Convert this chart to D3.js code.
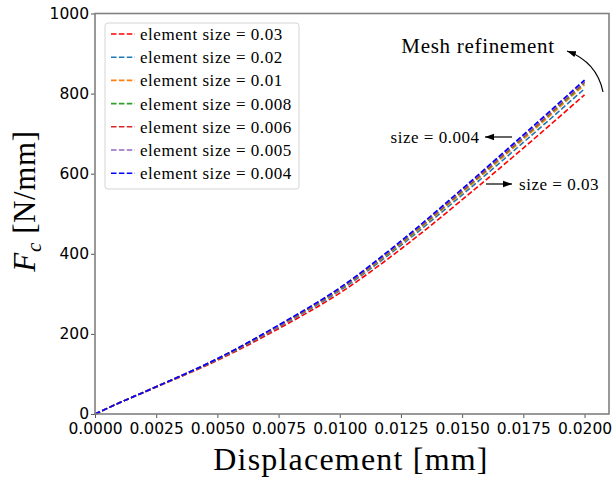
<!DOCTYPE html>
<html>
<head>
<meta charset="utf-8">
<script src="https://cdn.jsdelivr.net/npm/d3@7"></script>
<style>
  body { margin: 0; background: #fff; }
  .tick text { font-family: "DejaVu Sans", sans-serif; font-size: 15.5px; fill: #000; }
  .serif { font-family: "Liberation Serif", "DejaVu Serif", serif; fill: #000; }
</style>
</head>
<body>
<svg class="chart" width="613" height="479"></svg>
<script>
// displacement [mm] where the curves were read
var disp = [0, 0.001, 0.0025, 0.005, 0.0075, 0.01, 0.0125, 0.015, 0.0175, 0.02];

// Fc [N/mm] per element size
var fc003  = [0, 28, 67, 134, 213, 302, 412, 535, 664, 797];
var fc002  = [0, 28, 68, 136, 217, 308, 421, 547, 678, 812];
var fc001  = [0, 28, 68, 137, 219, 311, 425, 553, 686, 822];
var fc0008 = [0, 28, 68, 137, 220, 312, 427, 556, 690, 826];
var fc0006 = [0, 28, 68, 138, 220, 313, 429, 558, 692, 829];
var fc0005 = [0, 28, 68, 138, 221, 314, 430, 560, 694, 831];
var fc0004 = [0, 28, 68, 138, 222, 315, 432, 562, 697, 834];

var labels = ["element size = 0.03", "element size = 0.02", "element size = 0.01",
              "element size = 0.008", "element size = 0.006", "element size = 0.005",
              "element size = 0.004"];
var colors = ["red", "#1f77b4", "#ff7f0e", "#2ca02c", "#d62728", "#9467bd", "blue"];
var series = [fc003, fc002, fc001, fc0008, fc0006, fc0005, fc0004];

var xTicks = [0, 0.0025, 0.005, 0.0075, 0.01, 0.0125, 0.015, 0.0175, 0.02];
var yTicks = [0, 200, 400, 600, 800, 1000];

var margin = {top: 13.5, right: 4, bottom: 65, left: 95};
var width = 613 - margin.left - margin.right;
var height = 479 - margin.top - margin.bottom;

var x = d3.scaleLinear().domain([0, 0.021]).range([0, width]);
var y = d3.scaleLinear().domain([0, 1000]).range([height, 0]);

var svg = d3.select(".chart");
var chart = svg.append("g")
  .attr("transform", "translate(" + margin.left + "," + margin.top + ")");

var defs = svg.append("defs");
defs.append("marker")
  .attr("id", "head")
  .attr("viewBox", "0 0 10 10")
  .attr("refX", 10).attr("refY", 5)
  .attr("markerWidth", 9).attr("markerHeight", 9)
  .attr("markerUnits", "userSpaceOnUse")
  .attr("orient", "auto")
  .append("path")
  .attr("d", "M0,1.5 L10,5 L0,8.5 Z")
  .attr("fill", "#000");

var line = d3.line()
  .x(function(d, i) { return x(disp[i]); })
  .y(function(d) { return y(d); })
  .curve(d3.curveMonotoneX);

chart.selectAll(".series")
  .data(series)
  .enter().append("path")
  .attr("class", "series")
  .attr("d", line)
  .attr("fill", "none")
  .attr("stroke", function(d, i) { return colors[i]; })
  .attr("stroke-width", 1.6)
  .attr("stroke-dasharray", "5.5,2.4");

// axes
var xAxis = d3.axisBottom(x).tickValues(xTicks).tickFormat(d3.format(".4f")).tickSizeOuter(0).tickSize(4).tickPadding(2);
var yAxis = d3.axisLeft(y).tickValues(yTicks).tickFormat(d3.format("d")).tickSizeOuter(0).tickSize(4).tickPadding(2);

var gx = chart.append("g").attr("transform", "translate(0," + height + ")").call(xAxis);
var gy = chart.append("g").call(yAxis);
[gx, gy].forEach(function(g) {
  g.select(".domain").remove();
  g.selectAll(".tick line").attr("stroke", "#555").attr("stroke-width", 1);
});
gx.selectAll("text").attr("dy", "0.9em");

chart.append("rect")
  .attr("width", width).attr("height", height)
  .attr("fill", "none")
  .attr("stroke", "#808080")
  .attr("stroke-width", 1.6);

// legend
var leg = chart.append("g").attr("transform", "translate(10,9.5)");
leg.append("rect")
  .attr("width", 194).attr("height", 166)
  .attr("rx", 3)
  .attr("fill", "#fff")
  .attr("stroke", "#d5d5d5");
var rows = leg.selectAll(".row")
  .data(labels)
  .enter().append("g")
  .attr("transform", function(d, i) { return "translate(0," + (11 + i * 23.2) + ")"; });
rows.append("line")
  .attr("x1", 6).attr("x2", 30)
  .attr("stroke", function(d, i) { return colors[i]; })
  .attr("stroke-width", 1.6)
  .attr("stroke-dasharray", "5.5,2.4");
rows.append("text")
  .attr("class", "serif")
  .attr("x", 35).attr("dy", "0.35em")
  .style("font-size", "17px")
  .style("letter-spacing", "0.55px")
  .text(function(d) { return d; });

// axis titles
svg.append("text")
  .attr("class", "serif")
  .attr("x", 351).attr("y", 470)
  .attr("text-anchor", "middle")
  .style("font-size", "32px")
  .style("letter-spacing", "1.2px")
  .text("Displacement [mm]");

var yl = svg.append("text")
  .attr("class", "serif")
  .attr("transform", "translate(35,201) rotate(-90)")
  .attr("text-anchor", "middle")
  .style("font-size", "31px")
  .style("letter-spacing", "0.6px");
yl.append("tspan").style("font-style", "italic").text("F");
yl.append("tspan").style("font-style", "italic").style("font-size", "21px").attr("dy", 6).text("c");
yl.append("tspan").attr("dy", -6).text(" [N/mm]");

// annotations
svg.append("text")
  .attr("class", "serif")
  .attr("x", 478).attr("y", 46).attr("dy", "0.35em")
  .attr("text-anchor", "middle")
  .style("font-size", "21px")
  .style("letter-spacing", "0.7px")
  .text("Mesh refinement");
svg.append("path")
  .attr("d", "M603,92 Q597,62 567,51")
  .attr("fill", "none").attr("stroke", "#000").attr("stroke-width", 1.2)
  .attr("marker-end", "url(#head)");

svg.append("text")
  .attr("class", "serif")
  .attr("x", 435).attr("y", 137).attr("dy", "0.35em")
  .attr("text-anchor", "middle")
  .style("font-size", "17px")
  .style("letter-spacing", "0.5px")
  .text("size = 0.004");
svg.append("line")
  .attr("x1", 512).attr("y1", 137).attr("x2", 485).attr("y2", 137)
  .attr("stroke", "#000").attr("stroke-width", 1.2)
  .attr("marker-end", "url(#head)");

svg.append("text")
  .attr("class", "serif")
  .attr("x", 559).attr("y", 184).attr("dy", "0.35em")
  .attr("text-anchor", "middle")
  .style("font-size", "17px")
  .style("letter-spacing", "0.5px")
  .text("size = 0.03");
svg.append("line")
  .attr("x1", 486).attr("y1", 184).attr("x2", 512).attr("y2", 184)
  .attr("stroke", "#000").attr("stroke-width", 1.2)
  .attr("marker-end", "url(#head)");
</script>
</body>
</html>
